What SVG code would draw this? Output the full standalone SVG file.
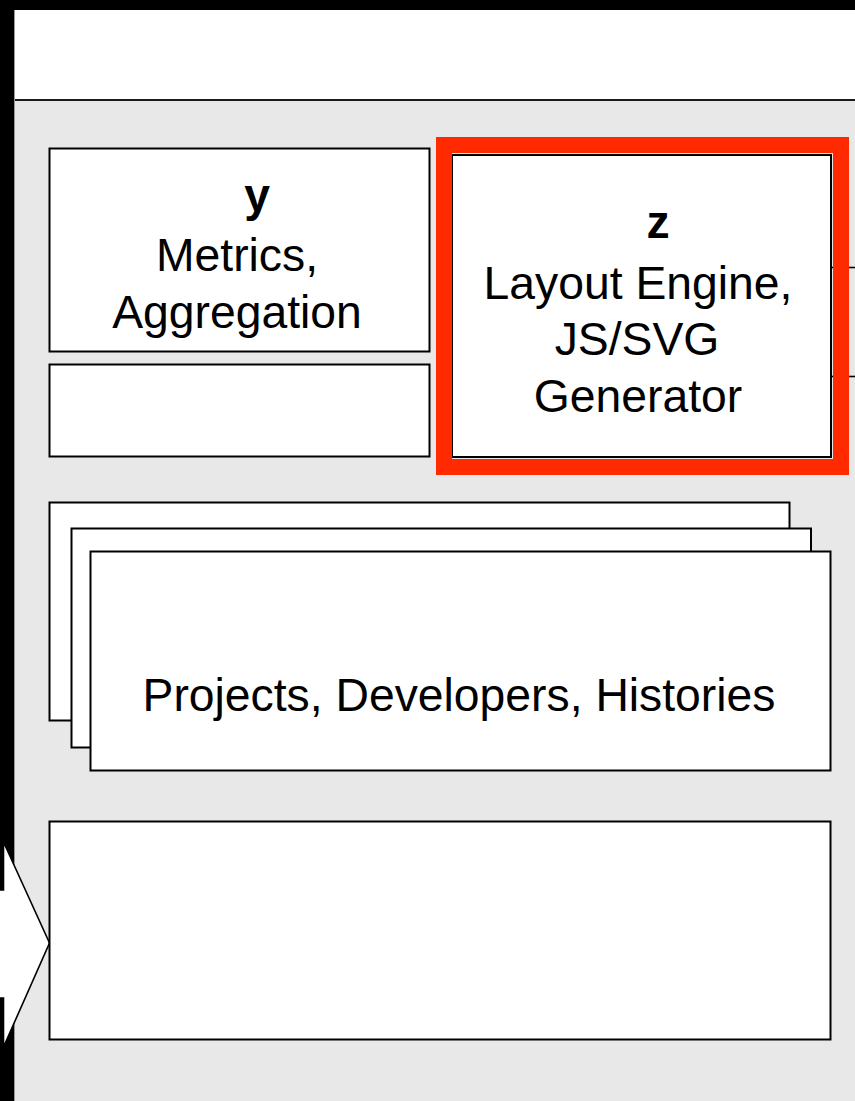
<svg xmlns="http://www.w3.org/2000/svg" width="855" height="1101" viewBox="0 0 855 1101">
  <style>
    .box { fill: #ffffff; stroke: #000000; stroke-width: 2; }
    .t { font-family: "Liberation Sans", Arial, Helvetica, sans-serif; font-size: 46.3px; fill: #000000; text-anchor: middle; }
    .b { font-weight: bold; }
    .conn { stroke: #000000; stroke-width: 1.6; fill: none; }
  </style>
  <!-- background -->
  <rect x="0" y="0" width="855" height="1101" fill="#000000"/>
  <rect x="14" y="10" width="841" height="1091" fill="#e8e8e8"/>
  <rect x="14" y="10" width="841" height="90" fill="#ffffff"/>
  <line x1="14" y1="100" x2="855" y2="100" stroke="#1a1a1a" stroke-width="1.8"/>
  <line x1="14.5" y1="10" x2="14.5" y2="1101" stroke="#999999" stroke-width="1"/>

  <g id="connectors">
    <line class="conn" x1="830" y1="267.5" x2="855" y2="267.5"/>
    <line class="conn" x1="830" y1="376.5" x2="855" y2="376.5"/>
    <polygon class="conn" points="-20,890 3.5,890 3.5,842 49.5,943 3.5,1047 3.5,998 -20,998" style="fill:#ffffff"/>
  </g>

  <g id="node-y">
    <rect class="box" x="49.5" y="148.5" width="380" height="203"/>
    <text class="t b" x="257" y="210.5">y</text>
    <text class="t" x="237" y="270.5">Metrics,</text>
    <text class="t" x="237" y="327.5">Aggregation</text>
  </g>

  <g id="node-y-sub">
    <rect class="box" x="49.5" y="364.5" width="380" height="92"/>
  </g>

  <g id="node-z">
    <rect class="box" x="452" y="155" width="379" height="302"/>
    <rect x="444" y="145" width="397" height="322" fill="none" stroke="#ff2a00" stroke-width="16"/>
    <text class="t b" x="658" y="238">z</text>
    <text class="t" x="638" y="298.5">Layout Engine,</text>
    <text class="t" x="637" y="355">JS/SVG</text>
    <text class="t" x="638" y="411.5">Generator</text>
  </g>

  <g id="node-stack">
    <rect class="box" x="49.5" y="502.5" width="740" height="218"/>
    <rect class="box" x="71.5" y="528.5" width="739.5" height="219"/>
    <rect class="box" x="90.5" y="551.5" width="740" height="219"/>
    <text class="t" x="459" y="711">Projects, Developers, Histories</text>
  </g>

  <g id="node-bottom">
    <rect class="box" x="49.5" y="821.5" width="781" height="218"/>
  </g>
</svg>
